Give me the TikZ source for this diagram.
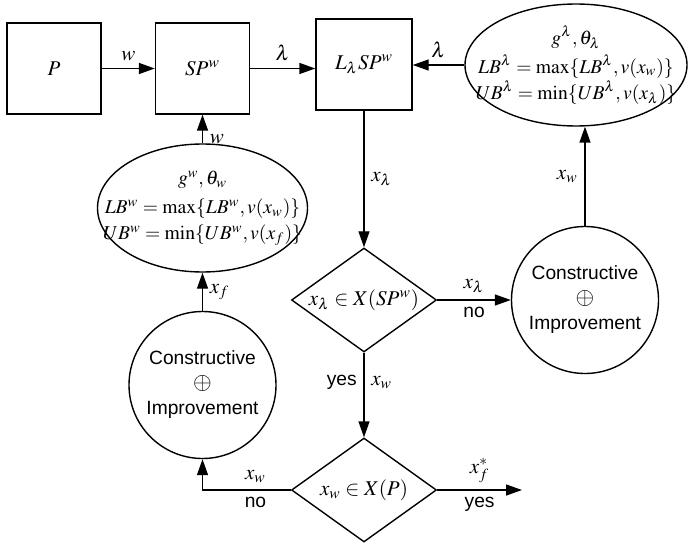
\documentclass[tikz,border=0pt]{standalone}
\usepackage{mathptmx}
\usepackage{fontspec}
\setmainfont{Liberation Serif}
\setsansfont{Liberation Sans}
\usepackage{tikz}
\usetikzlibrary{shapes.geometric, arrows.meta}

\newcommand{\bigcplus}{{\fontsize{12}{12.5}\selectfont$\oplus$}}

\begin{document}
\begin{tikzpicture}[x=0.5pt, y=-0.5pt, line width=0.7pt,
    >={Triangle[length=8pt,width=5.5pt]},
    font=\fontsize{10.5}{12}\selectfont,
    box/.style={draw, minimum width=47pt, minimum height=45.5pt, inner sep=0pt},
    test/.style={draw, diamond, aspect=1.4, minimum width=72.5pt, minimum height=52pt, inner sep=0pt},
    heur/.style={draw, circle, minimum size=73.5pt, inner sep=0pt, align=center,
                 font=\sffamily\fontsize{9.6}{12.5}\selectfont},
    bound/.style={draw, ellipse, inner xsep=-17pt, inner ysep=0pt, align=center,
                  font=\fontsize{9.8}{13}\selectfont},
    lab/.style={font=\sffamily\fontsize{9.6}{11.5}\selectfont}]
    \useasboundingbox (0,0) rectangle (689,545);
    % subproblems
    \node[box] (p) at (54,68.5) {$P$};
    \node[box] (sp) at (202.5,68.5) {$SP^w$};
    \node[box, minimum width=48pt] (lsp) at (364,64.5) {$L_\lambda SP^w$};
    % bounds and multipliers
    \node[bound, minimum width=111pt, minimum height=61pt] (bl) at (576,65)
        {$g^\lambda,\theta_\lambda$\\[1.5pt]
         $LB^\lambda=\max\{LB^\lambda,v(x_w)\}$\\
         $UB^\lambda=\min\{UB^\lambda,v(x_\lambda)\}$};
    \node[bound, minimum width=105pt, minimum height=64pt] (bw) at (202.5,208)
        {$g^w,\theta_w$\\[1.5pt]
         $LB^w=\max\{LB^w,v(x_w)\}$\\
         $UB^w=\min\{UB^w,v(x_f)\}$};
    % heuristics
    \node[heur] (cw) at (202.5,385) {Constructive\\\bigcplus\\Improvement};
    \node[heur] (cl) at (585,300) {Constructive\\\bigcplus\\Improvement};
    % feasibility tests
    \node[test] (d1) at (364,300) {$x_\lambda\in X(SP^w)$};
    \node[test] (d2) at (364,490) {$x_w\in X(P)$};
    \coordinate (out) at (522,490);
    % connectors
    \draw[->] (p) -- node[above] {$w$} (sp);
    \draw[->] (sp.east) -- node[above] {$\lambda$} (sp.east -| lsp.west);
    \draw[->] (bl.west) -- node[above] {$\lambda$} (bl.west -| lsp.east);
    \draw[->] (bw) -- node[right, pos=0.15] {$w$} (sp);
    \draw[->] (cw) -- node[right] {$x_f$} (bw);
    \draw[->] (lsp) -- node[right] {$x_\lambda$} (d1);
    \draw[->] (d1) -- node[above] {$x_\lambda$} node[below, lab] {no} (cl);
    \draw[->] (d1) -- node[left, lab, pos=0.35] {yes} node[right, pos=0.35] {$x_w$} (d2);
    \draw[->] (d2.west) -- node[above, pos=0.4] {$x_w$} node[below, lab, pos=0.4] {no}
          (d2.west -| cw.south) -- (cw.south);
    \draw[->] (d2.east) -- node[above] {$x_f^*$} node[below, lab] {yes} (out);
    \draw[->] (cl.north) -- node[left] {$x_w$} (cl.north |- bl.south);
\end{tikzpicture}
\end{document}
